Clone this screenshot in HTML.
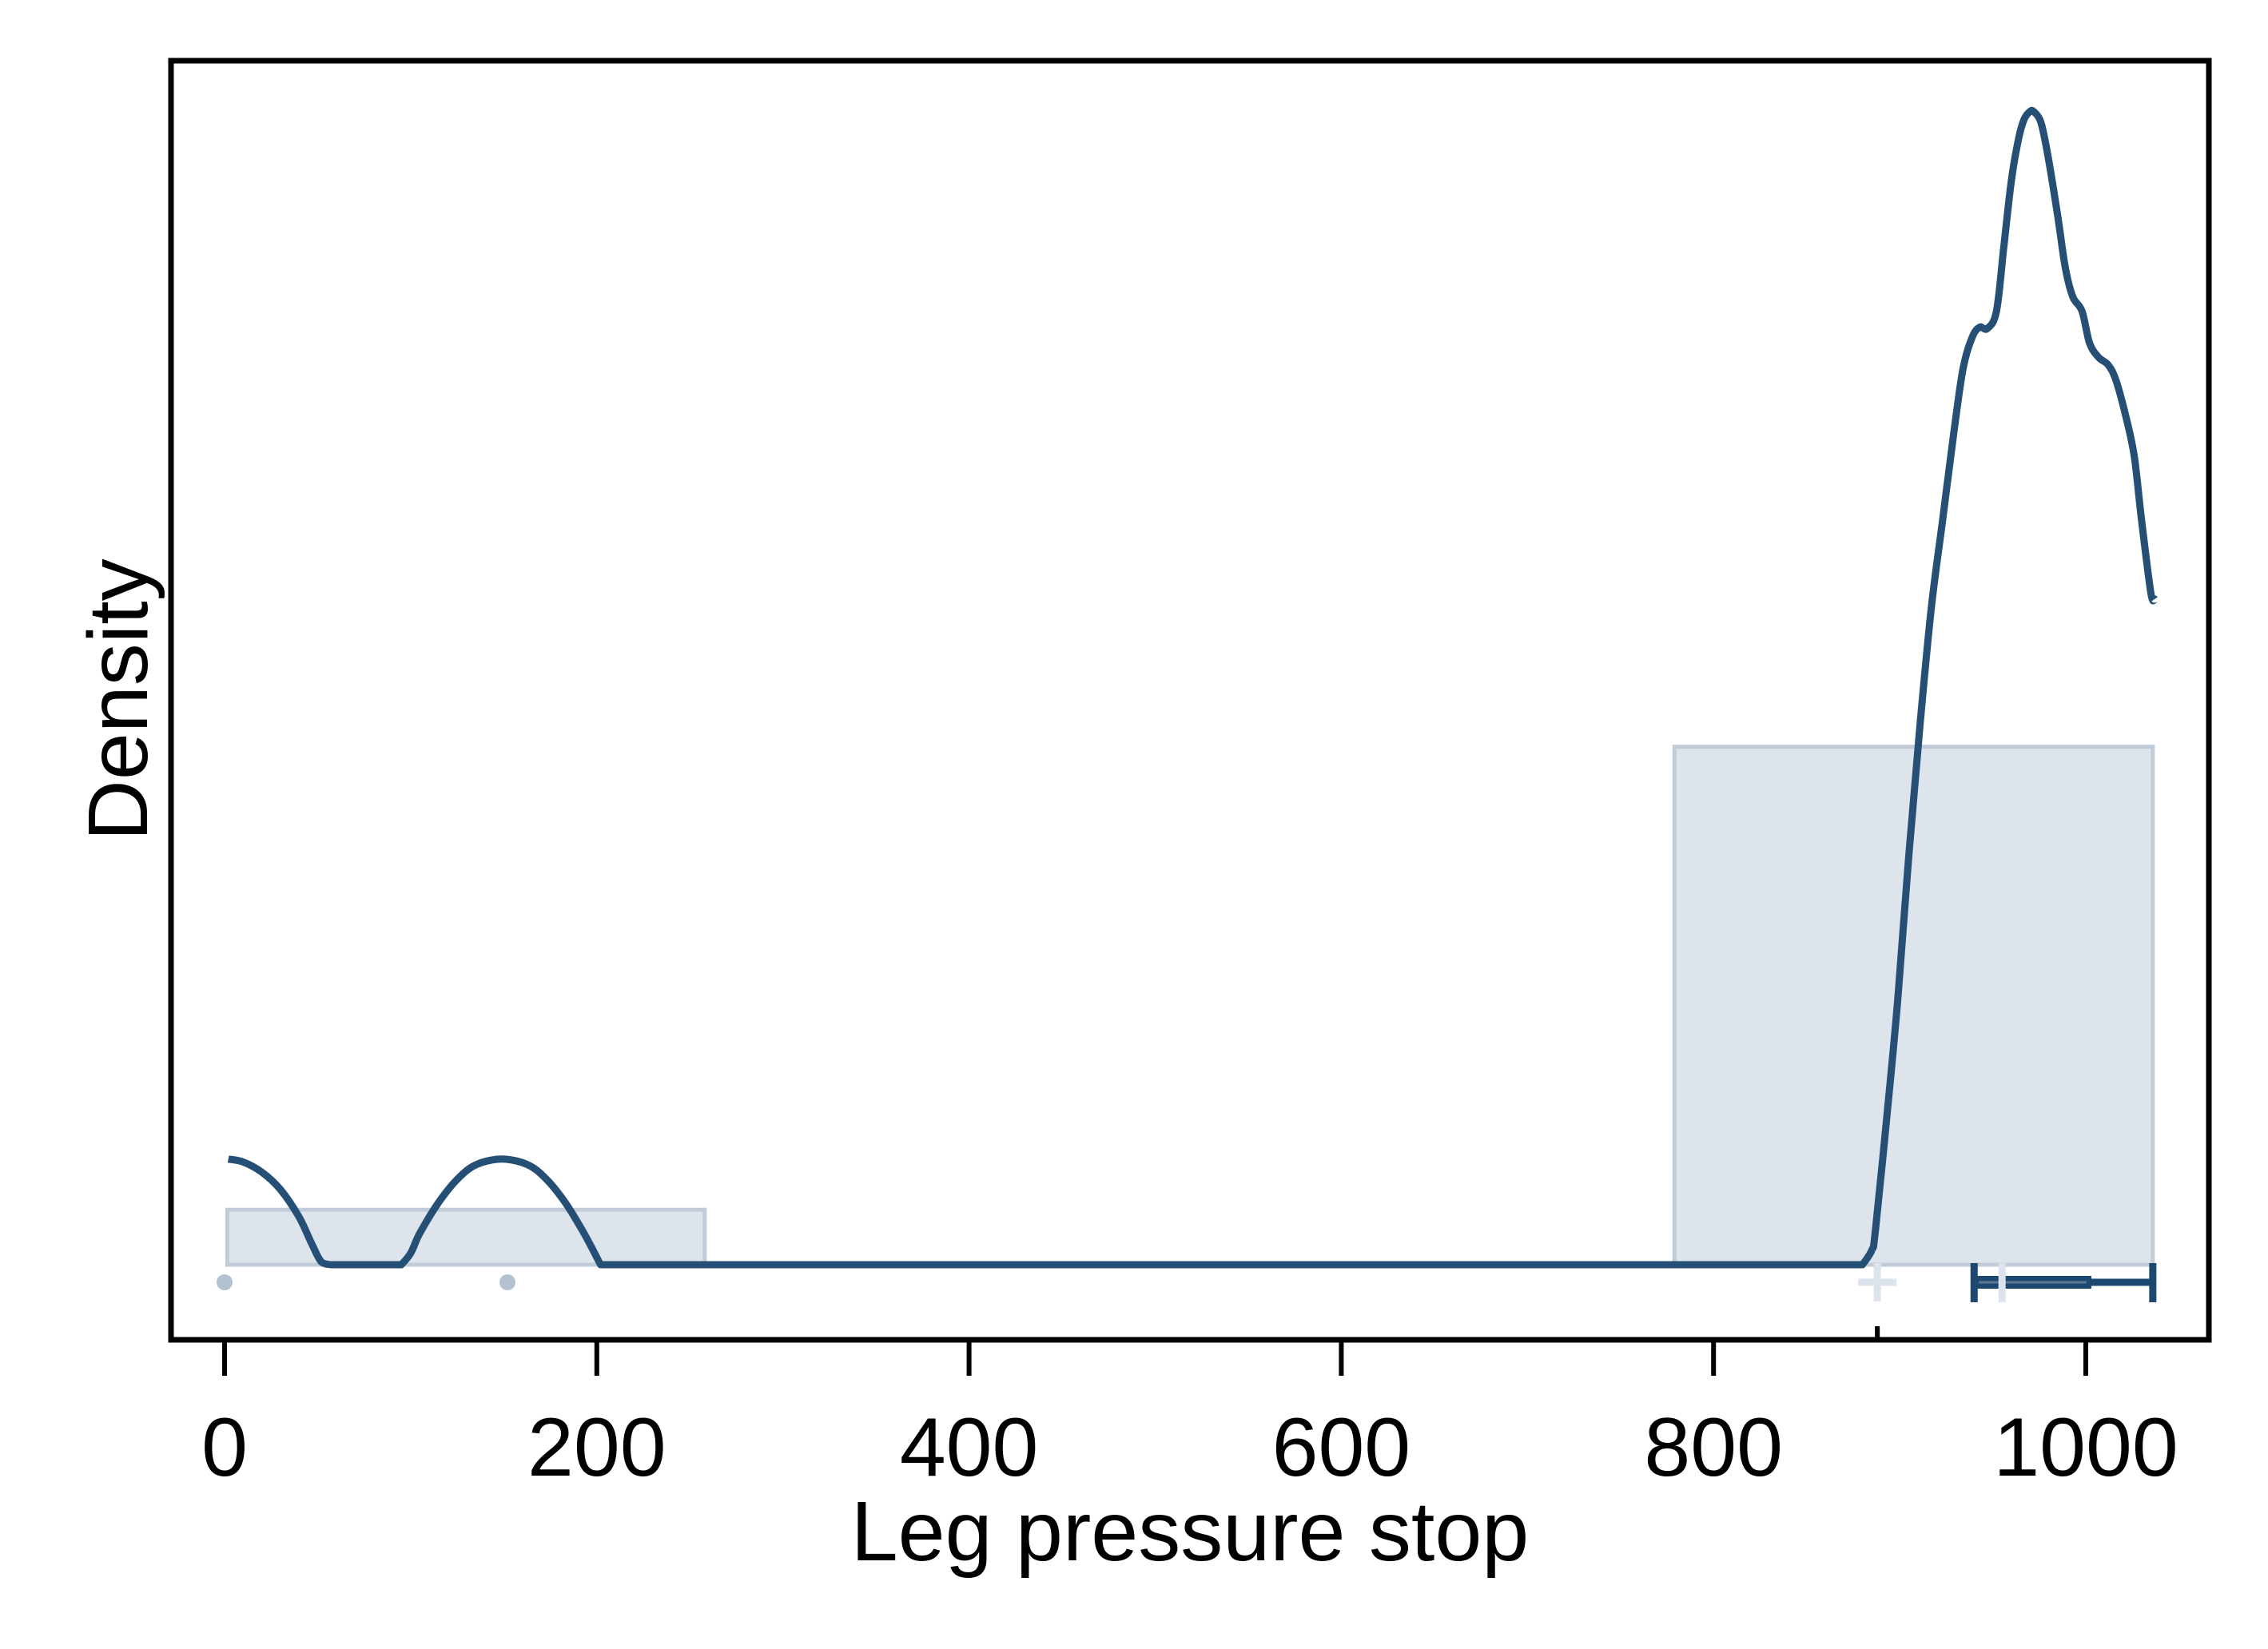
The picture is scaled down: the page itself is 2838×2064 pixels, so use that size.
<!DOCTYPE html>
<html><head><meta charset="utf-8"><style>
html,body{margin:0;padding:0;background:#fff;}
svg{display:block;font-family:"Liberation Sans",Arial,sans-serif;}
</style></head><body>
<svg id="chart" width="2838" height="2064" viewBox="0 0 2838 2064" xmlns="http://www.w3.org/2000/svg">
<rect x="0" y="0" width="2838" height="2064" fill="#fff"/>
<g id="bars"></g>
<g id="curve"></g>
<g id="markers"></g>
<rect x="214" y="76" width="2550" height="1601" fill="none" stroke="#000" stroke-width="7"/>
<g id="axis"></g>
<text x="1489" y="1953" font-size="106" text-anchor="middle">Leg pressure stop</text>
<text x="0" y="0" font-size="106" text-anchor="middle" transform="translate(184,876) rotate(-90)">Density</text>
</svg>
<script>
const xTicks = [0, 200, 400, 600, 800, 1000];
const binStarts = [1.5, 779];
const binEnds = [258, 1036];
const binHeights = [0.038, 0.358];
const densX = [2,10,20,30,40,47,52,57,95,100,105,115,125,135,149,163,173,183,193,202,880,885,887,894,899,905,911,917,923,929,934,939,943,947,952,956,960,964,967,970,972,976,980,985,989,993,998,1002,1007,1012,1016,1021,1026,1030,1035,1037];
const densY = [0.073,0.071,0.064,0.052,0.033,0.014,0.002,0,0,0.008,0.022,0.043,0.059,0.069,0.073,0.069,0.059,0.043,0.022,0,0,0.01,0.024,0.114,0.184,0.284,0.374,0.454,0.514,0.574,0.619,0.641,0.648,0.647,0.659,0.704,0.749,0.779,0.792,0.797,0.797,0.789,0.764,0.724,0.689,0.669,0.659,0.637,0.627,0.622,0.612,0.589,0.559,0.514,0.464,0.46];
const outliers = [0, 152];
const meanVal = [888];
const boxStats = [940, 955, 1003, 1036]; // lower, median, q3, upper

const NS = "http://www.w3.org/2000/svg";
const X = v => 281 + v * 2.329;
const BASE = 1583;
const Y = d => BASE - d * 1811;
function mk(tag, attrs, parent) {
  const e = document.createElementNS(NS, tag);
  for (const k in attrs) e.setAttribute(k, attrs[k]);
  document.getElementById(parent).appendChild(e);
  return e;
}
binStarts.forEach((s, i) => {
  const r = mk('rect', {x: X(s), y: Y(binHeights[i]), width: X(binEnds[i]) - X(s), height: BASE - Y(binHeights[i]), fill: '#dde4eb', stroke: '#c1ccd8', 'stroke-width': 5}, 'bars');
  
  
});
const pts = densX.map((x, i) => [X(x), Y(densY[i])]);
const GAP = 30;
let d = 'M' + pts[0][0].toFixed(1) + ',' + pts[0][1].toFixed(1);
for (let i = 0; i < pts.length - 1; i++) {
  const p1 = pts[i], p2 = pts[i + 1];
  if (densX[i + 1] - densX[i] > GAP) { d += ` L${p2[0].toFixed(1)},${p2[1].toFixed(1)}`; continue; }
  const p0 = (i > 0 && densX[i] - densX[i - 1] <= GAP) ? pts[i - 1] : p1;
  const p3 = (i + 2 < pts.length && densX[i + 2] - densX[i + 1] <= GAP) ? pts[i + 2] : p2;
  const t = 1 / 6;
  const c1x = p1[0] + (p2[0] - p0[0]) * t, c1y = Math.min(BASE, p1[1] + (p2[1] - p0[1]) * t);
  const c2x = p2[0] - (p3[0] - p1[0]) * t, c2y = Math.min(BASE, p2[1] - (p3[1] - p1[1]) * t);
  d += ` C${c1x.toFixed(1)},${c1y.toFixed(1)} ${c2x.toFixed(1)},${c2y.toFixed(1)} ${p2[0].toFixed(1)},${p2[1].toFixed(1)}`;
}
const p = mk('path', {d: d, fill: 'none', stroke: '#264f75', 'stroke-width': 9, 'stroke-linejoin': 'round'}, 'curve');


const MY = 1605;
outliers.forEach(v => {
  const c = mk('circle', {cx: X(v), cy: MY, r: 10, fill: '#b3c2d1'}, 'markers');
  
  
});
meanVal.forEach(v => {
  const g = mk('path', {d: `M${X(v)-24},${MY} H${X(v)+24} M${X(v)},${MY-24} V${MY+24}`, stroke: '#dde3ec', 'stroke-width': 9, fill: 'none'}, 'markers');
  
  
});
const [lo, med, q3, hi] = boxStats;
const wh = mk('path', {d: `M${X(lo)},${MY} H${X(hi)} M${X(lo)},1581 V1630 M${X(hi)},1581 V1630`, stroke: '#1d4870', 'stroke-width': 9, fill: 'none'}, 'markers');


const bx = mk('rect', {x: X(lo), y: MY - 8, width: X(q3) - X(lo), height: 16, fill: '#1d4870'}, 'markers');


const bl = mk('line', {x1: X(lo) + 6, x2: X(q3) - 6, y1: MY, y2: MY, stroke: '#5a7a98', 'stroke-width': 3}, 'markers');


const md = mk('line', {x1: X(med), x2: X(med), y1: 1581, y2: 1630, stroke: '#dde3ec', 'stroke-width': 9}, 'markers');


const mt = mk('line', {x1: X(meanVal[0]), x2: X(meanVal[0]), y1: 1660, y2: 1677, stroke: '#000', 'stroke-width': 6}, 'axis');


xTicks.forEach(t => {
  const l = mk('line', {x1: X(t), x2: X(t), y1: 1677, y2: 1722, stroke: '#000', 'stroke-width': 6}, 'axis');
  
  
  const tx = mk('text', {x: X(t), y: 1847, 'font-size': 104, 'text-anchor': 'middle'}, 'axis');
  tx.textContent = t;
  
  
});
</script>
</body></html>
